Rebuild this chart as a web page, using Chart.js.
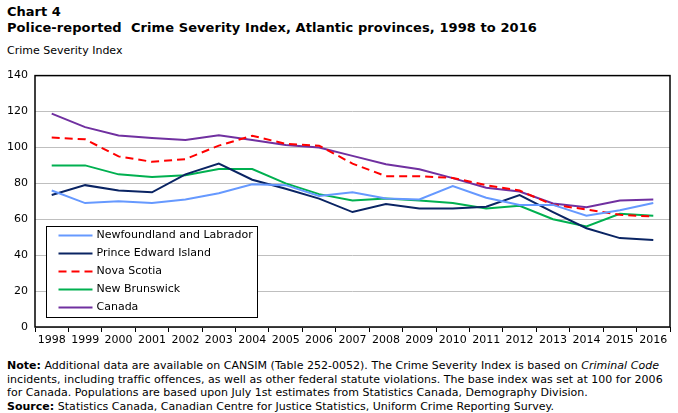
<!DOCTYPE html>
<html>
<head>
<meta charset="utf-8">
<script src="https://cdn.jsdelivr.net/npm/chart.js@4/dist/chart.umd.min.js"></script>
<style>
  body { margin: 0; width: 678px; height: 413px; background: #fff; position: relative; overflow: hidden; font-family: "DejaVu Sans", sans-serif; color: #000; }
  .t { position: absolute; left: 7px; white-space: pre; }
  #num { top: 4px; font-size: 13px; font-weight: bold; }
  #titre { top: 20px; font-size: 13px; font-weight: bold; letter-spacing: 0.08px; }
  #unite { top: 44px; font-size: 11px; }
  #zone { position: absolute; left: 0; top: 62px; width: 678px; height: 292px; }
  #notes { position: absolute; left: 7px; top: 359px; width: 675px; white-space: nowrap; font-family: "DejaVu Sans", sans-serif; font-size: 11px; line-height: 13.5px; letter-spacing: 0.02px; }
</style>
</head>
<body>
<div class="t" id="num">Chart 4</div>
<div class="t" id="titre">Police-reported  Crime Severity Index, Atlantic provinces, 1998 to 2016</div>
<div class="t" id="unite">Crime Severity Index</div>
<div id="zone"><canvas id="grafico" width="678" height="292"></canvas></div>
<div id="notes"><b>Note:</b> Additional data are available on CANSIM (Table 252-0052). The Crime Severity Index is based on <i>Criminal Code</i><br>incidents, including traffic offences, as well as other federal statute violations. The base index was set at 100 for 2006<br>for Canada. Populations are based upon July 1st estimates from Statistics Canada, Demography Division.<br><b>Source:</b> Statistics Canada, Canadian Centre for Justice Statistics, Uniform Crime Reporting Survey.</div>
<script>
const anos = ["1998", "1999", "2000", "2001", "2002", "2003", "2004", "2005", "2006", "2007",
  "2008", "2009", "2010", "2011", "2012", "2013", "2014", "2015", "2016"];

const terraNova = [76, 69, 70, 69, 71, 74.5, 79.5, 79, 73, 75, 71.5, 71, 78.5, 72, 68, 68, 62, 65, 69];
const ilhaPrincipe = [73.5, 79, 76, 75, 85, 91, 82, 77, 71.5, 64, 68.5, 66, 66, 67, 73.5, 64, 55, 49.5, 48.5];
const novaEscocia = [105.5, 104.5, 95, 92, 93.5, 101, 106.5, 102, 101, 91, 84, 84, 83, 79, 76, 68, 65.5, 62.5, 61.5];
const novoBrunswick = [90, 90, 85, 83.5, 84.5, 88, 88, 80, 74, 70.5, 71.5, 70.5, 69, 66, 67.5, 60, 56, 63, 62];
const canada = [118.8, 111.3, 106.7, 105.3, 104.1, 106.8, 104.1, 101.3, 100, 95.3, 90.6, 87.8, 82.9, 77.6, 75.4, 68.8, 66.7, 70.4, 71];

const nomes = ["Newfoundland and Labrador", "Prince Edward Island", "Nova Scotia", "New Brunswick", "Canada"];
const marcasY = [0, 20, 40, 60, 80, 100, 120, 140];

const fonte = "DejaVu Sans";

function serie(nome, dados, cor, tracejado) {
  return {
    label: nome,
    data: dados,
    borderColor: cor,
    backgroundColor: cor,
    borderWidth: 2,
    borderDash: tracejado ? [8, 5] : [],
    pointRadius: 0,
    tension: 0,
    fill: false,
  };
}

// moldura preta em volta da area do grafico
const moldura = {
  id: "moldura",
  afterDraw(chart) {
    const { ctx, chartArea: a } = chart;
    ctx.save();
    ctx.strokeStyle = "#000";
    ctx.lineWidth = 1.5;
    ctx.strokeRect(a.left, a.top, a.right - a.left, a.bottom - a.top);
    ctx.restore();
  },
};

// legenda desenhada dentro da area, canto inferior esquerdo
const legendaInterna = {
  id: "legendaInterna",
  afterDraw(chart) {
    const { ctx, chartArea: a } = chart;
    const x0 = a.left + 11.5;
    const y0 = 164.5;
    const larg = 211;
    const alt = 91;
    ctx.save();
    ctx.fillStyle = "#fff";
    ctx.fillRect(x0, y0, larg, alt);
    ctx.strokeStyle = "#000";
    ctx.lineWidth = 1;
    ctx.strokeRect(x0, y0, larg, alt);
    ctx.font = "11px '" + fonte + "'";
    ctx.textBaseline = "middle";
    chart.data.datasets.forEach((d, i) => {
      const y = y0 + 9 + i * 18;
      ctx.strokeStyle = d.borderColor;
      ctx.lineWidth = 2;
      ctx.setLineDash(d.borderDash);
      ctx.beginPath();
      ctx.moveTo(x0 + 12, y);
      ctx.lineTo(x0 + 46, y);
      ctx.stroke();
      ctx.setLineDash([]);
      ctx.fillStyle = "#000";
      ctx.fillText(d.label, x0 + 50, y);
    });
    ctx.restore();
  },
};

new Chart(document.getElementById("grafico"), {
  type: "line",
  data: {
    labels: anos,
    datasets: [
      serie(nomes[0], terraNova, "#6699FF", false),
      serie(nomes[1], ilhaPrincipe, "#0A2463", false),
      serie(nomes[2], novaEscocia, "#FF0000", true),
      serie(nomes[3], novoBrunswick, "#00B050", false),
      serie(nomes[4], canada, "#7030A0", false),
    ],
  },
  options: {
    responsive: false,
    animation: false,
    layout: { padding: { top: 12, right: 8, left: 0, bottom: 0 } },
    plugins: {
      legend: { display: false },
      tooltip: { enabled: false },
    },
    scales: {
      x: {
        offset: true,
        grid: { offset: true, drawOnChartArea: false, drawTicks: true, tickLength: 5, color: "#000" },
        border: { display: false },
        ticks: { color: "#000", font: { family: fonte, size: 11 }, maxRotation: 0, autoSkip: false, padding: 2 },
        afterFit(s) { s.height = 27; },
      },
      y: {
        min: 0,
        max: 140,
        afterBuildTicks(s) { s.ticks = marcasY.map((v) => ({ value: v })); },
        grid: { color: "#BFBFBF", drawTicks: false },
        border: { display: false },
        ticks: { color: "#000", font: { family: fonte, size: 11 }, padding: 7 },
        afterFit(s) { s.width = 35; },
      },
    },
  },
  plugins: [moldura, legendaInterna],
});
</script>
</body>
</html>
